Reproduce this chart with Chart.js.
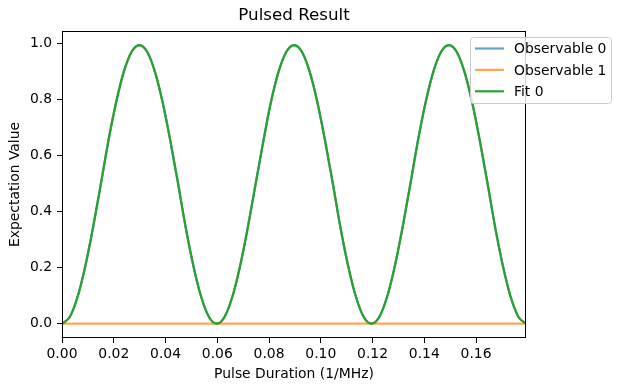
<!DOCTYPE html>
<html>
<head>
<meta charset="utf-8">
<script src="https://cdn.jsdelivr.net/npm/chart.js@4"></script>
<style>
  html, body { margin: 0; padding: 0; background: #fff; }
  #wrap { width: 622px; height: 391px; }
</style>
</head>
<body>
<div id="wrap"><canvas id="pulseChart" width="622" height="391"></canvas></div>
<script>
const chartTitle = 'Pulsed Result';
const xTitle = 'Pulse Duration (1/MHz)';
const yTitle = 'Expectation Value';
const seriesLabels = ['Observable 0', 'Observable 1', 'Fit 0'];

// pulse durations (1/MHz)
const durations = [
  0.0000, 0.0030, 0.0060, 0.0090, 0.0120, 0.0150, 0.0179, 0.0209, 0.0239, 0.0269,
  0.0299, 0.0329, 0.0359, 0.0389, 0.0419, 0.0449, 0.0478, 0.0508, 0.0538, 0.0568,
  0.0598, 0.0628, 0.0658, 0.0688, 0.0718, 0.0748, 0.0778, 0.0807, 0.0837, 0.0867,
  0.0897, 0.0927, 0.0957, 0.0987, 0.1017, 0.1047, 0.1076, 0.1106, 0.1136, 0.1166,
  0.1196, 0.1226, 0.1256, 0.1286, 0.1316, 0.1346, 0.1375, 0.1405, 0.1435, 0.1465,
  0.1495, 0.1525, 0.1555, 0.1585, 0.1615, 0.1645, 0.1674, 0.1704, 0.1734, 0.1764,
  0.1793
];

const observable0 = [
  0.000, 0.024, 0.095, 0.205, 0.343, 0.497, 0.650, 0.788, 0.898, 0.969,
  0.993, 0.969, 0.898, 0.788, 0.650, 0.497, 0.343, 0.205, 0.095, 0.024,
  0.000, 0.024, 0.095, 0.205, 0.343, 0.497, 0.650, 0.788, 0.898, 0.969,
  0.993, 0.969, 0.898, 0.788, 0.650, 0.497, 0.343, 0.205, 0.095, 0.024,
  0.000, 0.024, 0.095, 0.205, 0.343, 0.497, 0.650, 0.788, 0.898, 0.969,
  0.993, 0.969, 0.898, 0.788, 0.650, 0.497, 0.343, 0.205, 0.095, 0.024,
  0.000
];

const observable1 = [
  0, 0, 0, 0, 0, 0, 0, 0, 0, 0,
  0, 0, 0, 0, 0, 0, 0, 0, 0, 0,
  0, 0, 0, 0, 0, 0, 0, 0, 0, 0,
  0, 0, 0, 0, 0, 0, 0, 0, 0, 0,
  0, 0, 0, 0, 0, 0, 0, 0, 0, 0,
  0, 0, 0, 0, 0, 0, 0, 0, 0, 0,
  0
];

const fit0 = [
  0.000, 0.024, 0.095, 0.205, 0.343, 0.497, 0.650, 0.788, 0.898, 0.969,
  0.993, 0.969, 0.898, 0.788, 0.650, 0.497, 0.343, 0.205, 0.095, 0.024,
  0.000, 0.024, 0.095, 0.205, 0.343, 0.497, 0.650, 0.788, 0.898, 0.969,
  0.993, 0.969, 0.898, 0.788, 0.650, 0.497, 0.343, 0.205, 0.095, 0.024,
  0.000, 0.024, 0.095, 0.205, 0.343, 0.497, 0.650, 0.788, 0.898, 0.969,
  0.993, 0.969, 0.898, 0.788, 0.650, 0.497, 0.343, 0.205, 0.095, 0.024,
  0.000
];

const xRange = [0, 0.1793];
const yRange = [-0.051, 1.043];

const seriesColors = ['rgba(31,119,180,0.7)', 'rgba(255,127,14,0.7)', '#2ca02c'];
const FONT = 'DejaVu Sans';
const FS = 13.9;

const toPoints = ys => durations.map((x, i) => ({ x: x, y: ys[i] }));

const framePlugin = {
  id: 'frameAndLegend',
  afterDatasetsDraw(chart) {
    const { ctx, chartArea: a } = chart;
    ctx.save();
    ctx.strokeStyle = '#000';
    ctx.lineWidth = 1;
    ctx.strokeRect(Math.round(a.left) + 0.5, Math.round(a.top) + 0.5,
      Math.round(a.right - a.left) - 1, Math.round(a.bottom - a.top) - 1);
    ctx.restore();
  },
  afterDraw(chart) {
    const { ctx, chartArea: a } = chart;
    ctx.save();
    ctx.fillStyle = '#000';
    // title
    ctx.font = '16.7px "' + FONT + '"';
    ctx.textAlign = 'center';
    ctx.textBaseline = 'middle';
    ctx.fillText(chartTitle, (a.left + a.right) / 2, 16);
    // axis titles
    ctx.font = FS + 'px "' + FONT + '"';
    ctx.fillText(xTitle, (a.left + a.right) / 2, 374);
    ctx.save();
    ctx.translate(15, (a.top + a.bottom) / 2);
    ctx.rotate(-Math.PI / 2);
    ctx.fillText(yTitle, 0, 0);
    ctx.restore();

    // legend box
    const bx = 470.5, by = 37.5, bw = 141, bh = 66, r = 3;
    ctx.beginPath();
    ctx.moveTo(bx + r, by);
    ctx.arcTo(bx + bw, by, bx + bw, by + bh, r);
    ctx.arcTo(bx + bw, by + bh, bx, by + bh, r);
    ctx.arcTo(bx, by + bh, bx, by, r);
    ctx.arcTo(bx, by, bx + bw, by, r);
    ctx.closePath();
    ctx.fillStyle = 'rgba(255,255,255,0.8)';
    ctx.fill();
    ctx.strokeStyle = '#cccccc';
    ctx.lineWidth = 1;
    ctx.stroke();

    ctx.textAlign = 'left';
    chart.data.datasets.forEach((ds, i) => {
      const y = 48.5 + i * 21.4;
      ctx.strokeStyle = ds.borderColor;
      ctx.lineWidth = 2.2;
      ctx.beginPath();
      ctx.moveTo(475, y);
      ctx.lineTo(504, y);
      ctx.stroke();
      ctx.fillStyle = '#000';
      ctx.fillText(ds.label, 514, y + 1);
    });
    ctx.restore();
  }
};

new Chart(document.getElementById('pulseChart'), {
  type: 'line',
  data: {
    datasets: [
      { label: seriesLabels[0], data: toPoints(observable0), borderColor: seriesColors[0], order: 2 },
      { label: seriesLabels[1], data: toPoints(observable1), borderColor: seriesColors[1], order: 1 },
      { label: seriesLabels[2], data: toPoints(fit0), borderColor: seriesColors[2], order: 0 },
    ],
  },
  options: {
    responsive: false,
    animation: false,
    layout: { padding: { top: 31, right: 96, left: 0, bottom: 0 } },
    elements: {
      point: { radius: 0, hoverRadius: 0 },
      line: { borderWidth: 2.2, cubicInterpolationMode: 'monotone', fill: false },
    },
    plugins: { legend: { display: false }, title: { display: false }, tooltip: { enabled: false } },
    scales: {
      x: {
        type: 'linear',
        min: xRange[0],
        max: xRange[1],
        border: { display: false },
        grid: { drawOnChartArea: false, drawTicks: true, tickLength: 5, tickColor: '#000' },
        ticks: {
          stepSize: 0.02,
          includeBounds: false,
          maxRotation: 0,
          padding: 3,
          color: '#000',
          font: { family: FONT, size: FS },
          callback: v => v.toFixed(2),
        },
        afterFit: s => { s.height = 53; },
      },
      y: {
        min: yRange[0],
        max: yRange[1],
        border: { display: false },
        grid: { drawOnChartArea: false, drawTicks: true, tickLength: 5, tickColor: '#000' },
        ticks: {
          stepSize: 0.2,
          includeBounds: false,
          padding: 5,
          color: '#000',
          font: { family: FONT, size: FS },
          callback: v => v.toFixed(1),
        },
        afterFit: s => { s.width = 62; },
      },
    },
  },
  plugins: [framePlugin],
});
</script>
</body>
</html>
